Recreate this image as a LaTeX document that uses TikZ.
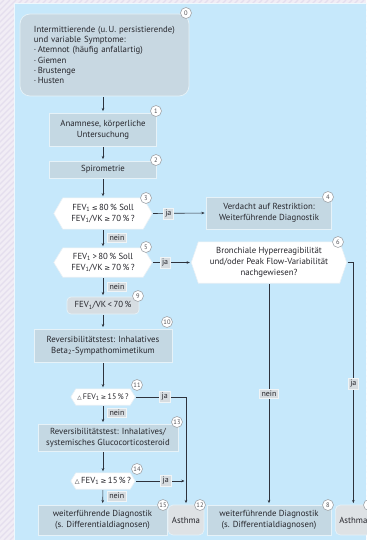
\documentclass[tikz,border=0pt]{standalone}
\usepackage{fontspec}
\setmainfont{PT Sans}
\newfontfamily\symfont{DejaVu Sans}
\usetikzlibrary{arrows.meta,backgrounds}

\definecolor{panel}{RGB}{198,232,251}
\definecolor{strip}{RGB}{241,237,245}
\definecolor{hatch}{RGB}{228,222,238}
\definecolor{boxfill}{RGB}{196,216,227}
\definecolor{boxline}{RGB}{230,242,248}
\definecolor{nodezero}{RGB}{200,216,226}
\definecolor{graybox}{RGB}{214,221,226}
\definecolor{asthfill}{RGB}{222,226,229}
\definecolor{txt}{RGB}{38,38,44}
\definecolor{linecol}{RGB}{45,50,60}
\definecolor{numline}{RGB}{160,165,170}
\definecolor{numtxt}{RGB}{80,80,85}
\definecolor{labfill}{RGB}{214,220,224}
\definecolor{labline}{RGB}{240,244,246}
\definecolor{hexline}{RGB}{232,240,245}

\newcommand\setfs[2]{\fontsize{#1}{#2}\selectfont}
\newcommand\FEVone{FEV\textsubscript{1}}
\newcommand\lesym{{\symfont\scalebox{0.8}{≤}}}
\newcommand\gesym{{\symfont\scalebox{0.8}{≥}}}
\newcommand\deltasym{{\symfont\scalebox{0.7}{△}}}
% pointed six-sided frame around a node, tips at west and east
\newcommand\hexpath[2]{\path[hexframe] (#1.west) -- ([xshift=#2]#1.north west) -- ([xshift=-#2]#1.north east) -- (#1.east) -- ([xshift=-#2]#1.south east) -- ([xshift=#2]#1.south west) -- cycle;}

\tikzset{
  base/.style={inner sep=0pt, align=center, font=\setfs{8.8}{10.8}, text=txt},
  stepbox/.style={base, rectangle, draw=boxline, fill=boxfill, line width=0.7bp},
  startbox/.style={base, rectangle, rounded corners=10bp, draw=boxline, fill=nodezero, line width=0.7bp},
  roundbox/.style={base, rectangle, rounded corners=4bp, draw=boxline, fill=graybox, line width=0.7bp},
  asthbox/.style={base, rectangle, rounded corners=5bp, draw=boxline, fill=asthfill, line width=0.7bp},
  hexnode/.style={base},
  hexframe/.style={fill=white, draw=hexline, line width=0.6bp},
  num/.style={circle, draw=numline, fill=white, line width=0.6bp, minimum size=11bp, inner sep=0pt, font=\setfs{6.5}{7}, text=numtxt},
  lab/.style={rectangle, draw=labline, fill=labfill, line width=0.6bp, inner xsep=2.2bp, inner ysep=1.8bp, font=\setfs{8}{8.5}, text=txt},
  arr/.style={draw=linecol, line width=0.6bp, shorten <=1bp, shorten >=1.5bp, -{Stealth[length=3.2bp,width=2.6bp]}},
}

\begin{document}
\begin{tikzpicture}[x=1bp,y=-1bp]
\useasboundingbox (0,0) rectangle (366,540);

% ---- main column ----
\node[startbox, minimum width=169bp, minimum height=82bp, text width=141bp, align=left, font=\setfs{8.8}{10.2}] (n0) at (104.5,55)
  {Intermittierende (u.\,U. persistierende)\\und variable Symptome:\\·\,Atemnot (häufig anfallartig)\\·\,Giemen\\·\,Brustenge\\·\,Husten};
\node[stepbox, minimum width=107bp, minimum height=33bp] (n1) at (103,129.5) {Anamnese, körperliche\\Untersuchung};
\node[stepbox, minimum width=107bp, minimum height=17bp] (n2) at (103,169.5) {Spirometrie};
\node[hexnode, minimum width=98bp, minimum height=31bp] (n3) at (103,213.5) {\FEVone\,\lesym\,80\,\% Soll\\\FEVone/VK\,\gesym\,70\,\%\,?};
\node[hexnode, minimum width=98bp, minimum height=29bp] (n5) at (103,262.5) {\FEVone\,>\,80\,\% Soll\\\FEVone/VK\,\gesym\,70\,\%\,?};
\node[roundbox, minimum width=72bp, minimum height=17bp] (n9) at (103,305.5) {\FEVone/VK\,<\,70\,\%};
\node[stepbox, minimum width=138bp, minimum height=33bp] (n10) at (103,345.5) {Reversibilitätstest: Inhalatives\\Beta\textsubscript{2}-Sympathomimetikum};
\node[hexnode, minimum width=64bp, minimum height=16bp, font=\setfs{8}{9.6}] (n11) at (103,397) {\deltasym\,\FEVone\,\gesym\,15\,\%\,?};
\node[stepbox, minimum width=140bp, minimum height=27bp] (n13) at (108,437.5) {Reversibilitätstest: Inhalatives/\\systemisches Glucocorticosteroid};
\node[hexnode, minimum width=64bp, minimum height=16bp, font=\setfs{8.8}{9.6}] (n14) at (103,481) {\deltasym\,\FEVone\,\gesym\,15\,\%\,?};
\node[stepbox, minimum width=129bp, minimum height=30bp] (n15) at (102.5,520) {weiterführende Diagnostik\\(s. Differentialdiagnosen)};
\node[asthbox, minimum width=36bp, minimum height=30bp] (n12) at (186,520) {Asthma};

% ---- right column ----
\node[stepbox, minimum width=125bp, minimum height=32bp] (n4) at (269,213) {Verdacht auf Restriktion:\\Weiterführende Diagnostik};
\node[hexnode, minimum width=155bp, minimum height=41bp, font=\setfs{8.8}{11}] (n6) at (269,262.5) {Bronchiale Hyperreagibilität\\und/oder Peak Flow-Variabilität\\nachgewiesen?};
\node[stepbox, minimum width=124bp, minimum height=30bp] (n8) at (269,520) {weiterführende Diagnostik\\(s. Differentialdiagnosen)};
\node[asthbox, minimum width=36bp, minimum height=30bp, anchor=west] (n7) at (335,520) {Asthma};

% ---- step numbers ----
\node[num] (c0) at (186,13) {0};
\node[num] (c1) at (156,111) {1};
\node[num] (c2) at (156,160) {2};
\node[num] (c3) at (146,198) {3};
\node[num] (c4) at (328,197) {4};
\node[num] (c5) at (146,247) {5};
\node[num] (c6) at (338,242) {6};
\node[num] (c9) at (138,296) {9};
\node[num] (c10) at (167,322) {10};
\node[num] (c11) at (137,385) {11};
\node[num] (c13) at (177,422) {13};
\node[num] (c14) at (137,469) {14};
\node[num] (c15) at (163,505) {15};
\node[num] (c12) at (200,505) {12};
\node[num] (c8) at (328,505) {8};
\node[num] (c7) at (369,505) {};

% ---- connectors ----
\draw[arr] (n0.south -| n1.north) -- (n1.north);
\draw[arr] (n1) -- (n2);
\draw[arr] (n2) -- (n3);
\draw[arr] (n3.east) -- node[lab, pos=0.3] {ja} (n4.west);
\draw[arr] (n3) -- node[lab, pos=0.47, right=4bp] {nein} (n5);
\draw[arr] (n5.east) -- node[lab, pos=0.33] {ja} (n6.west);
\draw[arr] (n5) -- node[lab, pos=0.5, right=4bp] {nein} (n9);
\draw[arr] (n9) -- (n10);
\draw[arr] (n10) -- (n11);
\draw[arr] (n11.east) -| node[lab, pos=0.29] {ja} (n12.north);
\draw[arr] (n11.south) -- node[lab, pos=0.4, right=4bp] {nein} (n11.south |- n13.north);
\draw[arr] (n11.south |- n13.south) -- (n14.north);
\draw[arr] (n14.east) -- node[lab, pos=0.6] {ja} (n14.east -| n12.north);
\draw[arr] (n14) -- node[lab, pos=0.45, right=4bp] {nein} (n15);
\draw[arr] (n6.south) -- node[lab, pos=0.5] {nein} (n8.north);
\draw[arr] (n6.east) -| node[lab, pos=0.75] {ja} (n7.north);

% ---- page background and frames ----
\begin{pgfonlayer}{background}
  \fill[strip] (0,0) rectangle (366,540);
  \begin{scope}
    \clip (0,0) rectangle (366,540);
    \foreach \i in {-560,-554,...,380} {
      \draw[hatch, line width=1.2bp] (\i,540) -- (\i+540,0);
    }
  \end{scope}
  \fill[panel] (14,3) rectangle (366,540);
  \draw[white, line width=0.6bp, opacity=0.7] (14,540) -- (14,3) -- (366,3);
  \hexpath{n3}{9bp}
  \hexpath{n5}{9bp}
  \hexpath{n11}{5bp}
  \hexpath{n14}{5bp}
  \hexpath{n6}{7bp}
\end{pgfonlayer}
\end{tikzpicture}
\end{document}
